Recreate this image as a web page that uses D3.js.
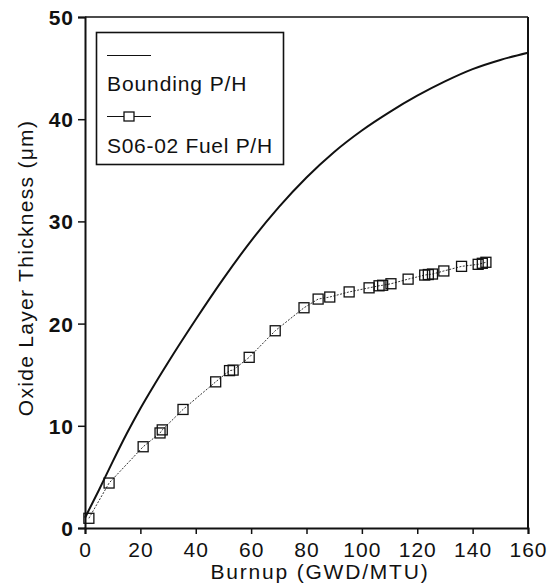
<!DOCTYPE html>
<html>
<head>
<meta charset="utf-8">
<script src="https://cdn.jsdelivr.net/npm/d3@7"></script>
<style>
  html, body { margin: 0; padding: 0; background: #fff; }
  svg { display: block; }
  text { font-family: "Liberation Sans", Arial, Helvetica, sans-serif; fill: #111; }
</style>
</head>
<body>
<svg id="chart" width="553" height="585"></svg>
<script>
// ---- data ----
const boundBurnup = [0, 5, 10, 15, 20, 25, 30, 40, 50, 60, 70, 80, 90, 100, 110, 120, 130, 140, 150, 160];
const boundOxide  = [1, 3.7, 6.5, 9.2, 11.7, 14.0, 16.2, 20.4, 24.4, 28.1, 31.4, 34.3, 36.8, 38.9, 40.7, 42.3, 43.7, 44.9, 45.8, 46.5];

const fuelBurnup = [1.4, 8.7, 21, 27.1, 27.9, 35.4, 47.2, 52.2, 53.5, 59.3, 68.7, 79.1, 84.2, 88.4, 95.4, 102.6, 106.2, 107.5, 110.5, 116.7, 122.7, 124.0, 125.5, 129.6, 136, 142, 143.5, 144.8];
const fuelOxide  = [0.95, 4.4, 7.95, 9.3, 9.6, 11.6, 14.3, 15.4, 15.45, 16.7, 19.3, 21.55, 22.4, 22.6, 23.1, 23.5, 23.7, 23.75, 23.9, 24.35, 24.75, 24.8, 24.85, 25.15, 25.6, 25.8, 25.9, 26.0];

const xTicks = [0, 20, 40, 60, 80, 100, 120, 140, 160];
const yTicks = [0, 10, 20, 30, 40, 50];
const xTitle = "Burnup (GWD/MTU)";
const yTitle = "Oxide  Layer  Thickness  (\u03bcm)";
const legendLabels = ["Bounding P/H", "S06-02 Fuel P/H"];

// ---- layout ----
const svg = d3.select("#chart");
const x = d3.scaleLinear().domain([0, 160]).range([85, 528]);
const y = d3.scaleLinear().domain([0, 50]).range([528, 17]);

// frame (top and right)
svg.append("line").attr("x1", x(0)).attr("x2", x(160)).attr("y1", y(50)).attr("y2", y(50))
  .attr("stroke", "#111").attr("stroke-width", 1.6);
svg.append("line").attr("x1", x(160)).attr("x2", x(160)).attr("y1", y(50)).attr("y2", y(0))
  .attr("stroke", "#111").attr("stroke-width", 2);

// axes
const xAxis = svg.append("g").attr("transform", `translate(0,${y(0)})`)
  .call(d3.axisBottom(x).tickValues(xTicks).tickSize(6).tickPadding(4).tickFormat(d3.format("d")));
const yAxis = svg.append("g").attr("transform", `translate(${x(0)},0)`)
  .call(d3.axisLeft(y).tickValues(yTicks).tickSize(7).tickPadding(4).tickFormat(d3.format("d")));

[xAxis, yAxis].forEach(g => {
  g.select(".domain").attr("stroke", "#111").attr("stroke-width", 2);
  g.selectAll(".tick line").attr("stroke", "#111").attr("stroke-width", 1.5);
  g.selectAll(".tick text").attr("font-family", "Liberation Sans, Arial, sans-serif")
    .attr("font-size", 21).attr("fill", "#111").style("letter-spacing", "1px");
});
yAxis.selectAll(".tick text").attr("font-weight", "bold").attr("dy", "0.36em");
xAxis.selectAll(".tick text").attr("dy", "0.9em");

// axis titles
svg.append("text").attr("x", 320).attr("y", 579).attr("text-anchor", "middle")
  .attr("font-size", 21).style("letter-spacing", "1.8px").text(xTitle);
svg.append("text").attr("transform", `translate(33,268) rotate(-90)`).attr("text-anchor", "middle")
  .attr("font-size", 21).style("letter-spacing", "1.3px").text(yTitle);

// bounding curve
const bound = boundBurnup.map((b, i) => [b, boundOxide[i]]);
svg.append("path").datum(bound)
  .attr("d", d3.line().x(d => x(d[0])).y(d => y(d[1])).curve(d3.curveMonotoneX))
  .attr("fill", "none").attr("stroke", "#111").attr("stroke-width", 2);

// fuel data
const fuel = fuelBurnup.map((b, i) => [b, fuelOxide[i]]);
svg.append("path").datum(fuel)
  .attr("d", d3.line().x(d => x(d[0])).y(d => y(d[1])))
  .attr("fill", "none").attr("stroke", "#333").attr("stroke-width", 1)
  .attr("stroke-dasharray", "2,1.5");
const sq = 10;
svg.append("g").selectAll("rect").data(fuel).join("rect")
  .attr("x", d => x(d[0]) - sq / 2).attr("y", d => y(d[1]) - sq / 2)
  .attr("width", sq).attr("height", sq)
  .attr("fill", "none").attr("stroke", "#111").attr("stroke-width", 1.3);

// legend
const lg = svg.append("g");
lg.append("rect").attr("x", 96.5).attr("y", 32.5).attr("width", 187).attr("height", 132)
  .attr("fill", "#fff").attr("stroke", "#111").attr("stroke-width", 1.6);
lg.append("line").attr("x1", 107).attr("x2", 151).attr("y1", 55.5).attr("y2", 55.5)
  .attr("stroke", "#111").attr("stroke-width", 1.2);
lg.append("text").attr("x", 107).attr("y", 90.5).attr("font-size", 21)
  .style("letter-spacing", "0.9px").text(legendLabels[0]);
lg.append("line").attr("x1", 107).attr("x2", 151).attr("y1", 116.5).attr("y2", 116.5)
  .attr("stroke", "#111").attr("stroke-width", 1.2);
lg.append("rect").attr("x", 124).attr("y", 112).attr("width", 10).attr("height", 9)
  .attr("fill", "#fff").attr("stroke", "#111").attr("stroke-width", 1.3);
lg.append("text").attr("x", 107).attr("y", 152.5).attr("font-size", 21)
  .style("letter-spacing", "0.7px").text(legendLabels[1]);
</script>
</body>
</html>
